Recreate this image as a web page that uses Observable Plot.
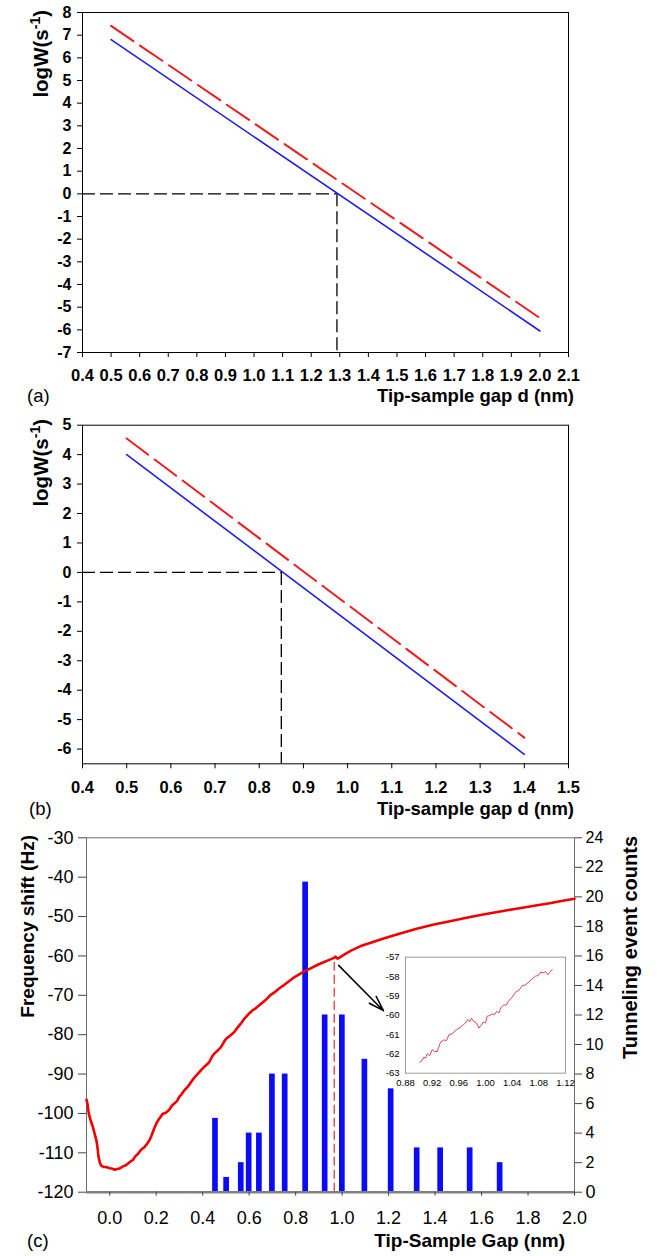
<!DOCTYPE html>
<html>
<head>
<meta charset="utf-8">
<script src="https://cdn.jsdelivr.net/npm/d3@7"></script>
<script src="https://cdn.jsdelivr.net/npm/@observablehq/plot@0.6"></script>
<style>
  html, body { margin: 0; padding: 0; background: #fff; }
  #fig { position: relative; width: 662px; height: 1256px; background: #fff; }
  #fig svg { position: absolute; }
</style>
</head>
<body>
<div id="fig"></div>
<script>
// ---------- Panel (a) ----------
const gapA = [0.5, 2.0];
const blueA = [6.8, -6.05];
const redA = [7.41, -5.48];
const crossA = 1.29;
const xTicksA = [0.4,0.5,0.6,0.7,0.8,0.9,1.0,1.1,1.2,1.3,1.4,1.5,1.6,1.7,1.8,1.9,2.0,2.1];
const yTicksA = [-7,-6,-5,-4,-3,-2,-1,0,1,2,3,4,5,6,7,8];

// ---------- Panel (b) ----------
const gapB = [0.5, 1.4];
const blueB = [4.0, -6.18];
const redB = [4.55, -5.61];
const crossB = 0.85;
const xTicksB = [0.4,0.5,0.6,0.7,0.8,0.9,1.0,1.1,1.2,1.3,1.4,1.5];
const yTicksB = [-6,-5,-4,-3,-2,-1,0,1,2,3,4,5];

// ---------- Panel (c) ----------
const curveGap = [-0.100,-0.096,-0.090,-0.082,-0.072,-0.064,-0.057,-0.052,-0.048,-0.042,-0.036,-0.025,-0.015,0.000,0.010,0.021,0.032,0.042,0.055,0.071,0.085,0.100,0.110,0.121,0.135,0.150,0.160,0.171,0.180,0.190,0.200,0.210,0.220,0.228,0.240,0.250,0.257,0.268,0.278,0.290,0.300,0.307,0.320,0.336,0.350,0.364,0.378,0.393,0.410,0.428,0.440,0.450,0.465,0.478,0.490,0.500,0.515,0.535,0.550,0.564,0.580,0.600,0.615,0.628,0.650,0.671,0.690,0.710,0.730,0.750,0.770,0.790,0.810,0.835,0.860,0.893,0.920,0.945,0.965,0.972,0.980,0.990,1.000,1.036,1.080,1.130,1.178,1.250,1.321,1.390,1.464,1.535,1.607,1.680,1.750,1.820,1.893,1.950,2.000];
const curveShift = [-96.5,-97.5,-100.1,-101.8,-103.5,-105.4,-106.9,-109.0,-111.1,-112.6,-113.3,-113.6,-113.6,-113.9,-114.0,-114.3,-114.1,-114.0,-113.5,-113.1,-112.4,-111.8,-110.9,-110.3,-109.2,-108.5,-107.8,-106.8,-105.6,-104.0,-102.6,-101.6,-100.8,-100.1,-99.9,-99.4,-99.0,-98.0,-97.5,-96.8,-95.7,-95.3,-94.2,-93.2,-92.0,-90.9,-90.0,-89.0,-88.0,-87.0,-85.6,-84.8,-84.0,-83.2,-82.0,-81.1,-80.4,-79.4,-78.2,-77.2,-75.9,-74.6,-73.8,-73.3,-72.2,-71.2,-70.0,-69.2,-68.2,-67.4,-66.5,-65.6,-64.9,-64.0,-63.3,-62.3,-61.6,-61.0,-60.5,-60.2,-60.7,-60.4,-60.0,-58.7,-57.5,-56.5,-55.6,-54.3,-53.1,-52.1,-51.2,-50.3,-49.5,-48.7,-48.0,-47.3,-46.6,-46.0,-45.5];
const barGap = [0.455,0.503,0.566,0.600,0.644,0.700,0.755,0.843,0.927,1.001,1.098,1.211,1.323,1.424,1.551,1.680];
const barCount = [5,1,2,4,4,8,8,21,12,12,9,7,3,3,3,2];
const markGap = 0.966;
const markShift = -60.5;
const arrowFrom = [0.985, -62.4];
const arrowTo = [1.178, -73.9];
const xTicksC = [0.0,0.2,0.4,0.6,0.8,1.0,1.2,1.4,1.6,1.8,2.0];
const yTicksC = [-120,-110,-100,-90,-80,-70,-60,-50,-40,-30];
const countTicks = [0,2,4,6,8,10,12,14,16,18,20,22,24];

// ---------- Inset ----------
const insetGap = [0.9015,0.905,0.9075,0.91,0.9125,0.9165,0.92,0.9235,0.9275,0.9325,0.9375,0.9415,0.945,0.95,0.955,0.9585,0.9625,0.9665,0.97,0.9735,0.9765,0.979,0.9825,0.9865,0.99,0.9935,0.9965,1.0,1.0025,1.0065,1.01,1.0135,1.0165,1.02,1.0235,1.0275,1.0315,1.035,1.04,1.045,1.05,1.055,1.06,1.065,1.07,1.075,1.079,1.0825,1.0865,1.09,1.0935,1.0965,1.10];
const insetShift = [-62.43,-62.34,-62.17,-62.22,-62.0,-62.09,-61.78,-61.88,-61.88,-61.40,-61.28,-61.31,-61.02,-60.97,-60.79,-60.71,-60.62,-60.5,-60.40,-60.22,-60.33,-60.16,-60.33,-60.40,-60.67,-60.53,-60.36,-60.40,-60.05,-60.02,-59.93,-59.98,-59.81,-59.88,-59.59,-59.47,-59.47,-59.24,-59.07,-58.81,-58.72,-58.47,-58.43,-58.29,-58.12,-57.98,-57.95,-57.78,-57.81,-57.74,-57.91,-57.78,-57.64];
const insetXTicks = [0.88,0.92,0.96,1.00,1.04,1.08,1.12];
const insetYTicks = [-63,-62,-61,-60,-59,-58,-57];

const FONT = "Liberation Sans, Arial, sans-serif";
const fig = document.getElementById("fig");

function place(svg, left, top) {
  svg.style.left = left + "px";
  svg.style.top = top + "px";
  fig.appendChild(svg);
  return d3.select(svg);
}

function styleTicks(sel, box, pick) {
  const svgRect = sel.node().getBoundingClientRect();
  sel.selectAll("text").each(function () {
    const r = this.getBoundingClientRect();
    const cx = r.left + r.width / 2 - svgRect.left;
    const cy = r.top + r.height / 2 - svgRect.top;
    let region = null;
    if (cy > box.bottom) region = "x";
    else if (cx < box.left) region = "left";
    else if (cx > box.right) region = "right";
    if (!region) return;
    const p = pick(region);
    if (!p) return;
    d3.select(this).style("font-size", p[0] + "px").style("font-weight", p[1]).style("font-family", FONT);
  });
}

function yLabelSup(sel, x, y) {
  const t = sel.append("text")
    .attr("transform", `translate(${x},${y}) rotate(-90)`)
    .attr("text-anchor", "end")
    .style("font-family", FONT).style("font-weight", "bold").style("font-size", "20.5px")
    .attr("fill", "black");
  t.append("tspan").text("logW(s");
  t.append("tspan").style("font-size", "14px").attr("dy", "-0.6em").text("-1");
  t.append("tspan").attr("dy", "0.42em").text(")");
}

function textAt(sel, x, y, str, opts = {}) {
  return sel.append("text")
    .attr("x", x).attr("y", y)
    .attr("text-anchor", opts.anchor || "start")
    .style("font-family", FONT)
    .style("font-weight", opts.weight || "normal")
    .style("font-size", (opts.size || 17) + "px")
    .attr("fill", "black")
    .text(str);
}

function panelAB(gap, blue, red, cross, xTicks, yTicks, xDom, yDom, mTop, mBottom, height) {
  return Plot.plot({
    width: 662, height,
    marginLeft: 82, marginRight: 94, marginTop: mTop, marginBottom: mBottom,
    style: {fontFamily: FONT, background: "transparent", color: "black"},
    x: {domain: xDom},
    y: {domain: yDom},
    marks: [
      Plot.axisX(xTicks, {tickSize: 5, tickFormat: () => "", label: null}),
      Plot.axisY(yTicks, {tickSize: 5, tickFormat: () => "", label: null}),
      Plot.text(xTicks, {x: d => d, frameAnchor: "bottom", lineAnchor: "top", dy: 17, text: d => d.toFixed(1),
        fontSize: 16.5, fontWeight: "bold", fontFamily: FONT, fill: "black"}),
      Plot.text(yTicks, {y: d => d, frameAnchor: "left", textAnchor: "end", lineAnchor: "middle", dx: -11, text: d => String(d),
        fontSize: 16, fontWeight: "bold", fontFamily: FONT, fill: "black"}),
      Plot.ruleY([0], {x1: xDom[0], x2: cross, stroke: "black", strokeWidth: 1.3, strokeDasharray: "13,5"}),
      Plot.ruleX([cross], {y1: 0, y2: yDom[0], stroke: "black", strokeWidth: 1.3, strokeDasharray: "13,5"}),
      Plot.line(gap.map((g, i) => ({g, v: red[i]})), {x: "g", y: "v", stroke: "#ee1c1c", strokeWidth: 2, strokeDasharray: "27,8"}),
      Plot.line(gap.map((g, i) => ({g, v: blue[i]})), {x: "g", y: "v", stroke: "#1f1fe6", strokeWidth: 1.6}),
      Plot.frame({stroke: "black", strokeWidth: 1})
    ]
  });
}

// Panel (a)
const svgA = panelAB(gapA, blueA, redA, crossA, xTicksA, yTicksA, [0.4, 2.1], [-7, 8], 12, 60, 412);
const sa = place(svgA, 0, 0);
yLabelSup(sa, 48, 10);
textAt(sa, 574, 402, "Tip-sample gap d (nm)", {anchor: "end", weight: "bold", size: 18.5});
textAt(sa, 27, 402, "(a)", {size: 18.5});

// Panel (b)
const svgB = panelAB(gapB, blueB, redB, crossB, xTicksB, yTicksB, [0.4, 1.5], [-6.5, 5], 12.7, 58.7, 410);
const sb = place(svgB, 0, 412);
yLabelSup(sb, 48, 7);
textAt(sb, 574, 403, "Tip-sample gap d (nm)", {anchor: "end", weight: "bold", size: 18.5});
textAt(sb, 29, 403, "(b)", {size: 18.5});

// Panel (c)
const cBase = -120, cPerCount = 90 / 24;
const bars = barGap.map((g, i) => ({x1: g - 0.0122, x2: g + 0.0122, y1: cBase, y2: cBase + barCount[i] * cPerCount}));
const curve = curveGap.map((g, i) => ({g, v: curveShift[i]}));
const svgC = Plot.plot({
  width: 662, height: 434,
  marginLeft: 86, marginRight: 88, marginTop: 15.3, marginBottom: 64.3,
  style: {fontFamily: FONT, background: "transparent", color: "black"},
  x: {domain: [-0.1, 2.0]},
  y: {domain: [-120, -30]},
  marks: [
    Plot.frame({stroke: "#6e6e6e", strokeWidth: 1}),
    Plot.rect(bars, {x1: "x1", x2: "x2", y1: "y1", y2: "y2", fill: "#0b0bf5"}),
    Plot.ruleX([markGap], {y1: -120, y2: markShift, stroke: "#e8262b", strokeWidth: 1.2, strokeDasharray: "9,4"}),
    Plot.line(curve, {x: "g", y: "v", stroke: "#f00000", strokeWidth: 2.6}),
    Plot.arrow([{x1: arrowFrom[0], y1: arrowFrom[1], x2: arrowTo[0], y2: arrowTo[1]}], {x1: "x1", y1: "y1", x2: "x2", y2: "y2", stroke: "black", strokeWidth: 1.5, headLength: 16, headAngle: 35}),
    Plot.ruleY([-120], {stroke: "#808080", strokeWidth: 2.5}),
    Plot.axisX(xTicksC, {tickSize: 4, tickPadding: 15, tickFormat: d => d.toFixed(1), label: null, stroke: "#444"}),
    Plot.axisY(yTicksC, {anchor: "left", tickSize: 8, tickPadding: 5, tickFormat: d => String(d), label: null, stroke: "#444"}),
    Plot.axisY(countTicks.map(c => cBase + c * cPerCount), {anchor: "right", tickSize: 7, tickPadding: 4, tickFormat: d => String(Math.round((d - cBase) / cPerCount)), label: null, stroke: "#444"})
  ]
});
const sc = place(svgC, 0, 822);
styleTicks(sc, {left: 86, right: 574, bottom: 369.7}, r => r === "right" ? [16, "normal"] : [18, "normal"]);
sc.append("text")
  .attr("transform", "translate(34,13) rotate(-90)")
  .attr("text-anchor", "end")
  .style("font-family", FONT).style("font-weight", "bold").style("font-size", "19px")
  .attr("fill", "black").text("Frequency shift (Hz)");
sc.append("text")
  .attr("transform", "translate(637,14) rotate(-90)")
  .attr("text-anchor", "end")
  .style("font-family", FONT).style("font-weight", "bold").style("font-size", "20px")
  .attr("fill", "black").text("Tunneling event counts");
textAt(sc, 565, 425, "Tip-Sample Gap (nm)", {anchor: "end", weight: "bold", size: 19});
textAt(sc, 27, 425, "(c)", {size: 18.5});

// Inset
const inset = insetGap.map((g, i) => ({g, v: insetShift[i]}));
const svgI = Plot.plot({
  width: 205, height: 145,
  marginLeft: 35, marginRight: 10, marginTop: 11.7, marginBottom: 17.3,
  style: {fontFamily: FONT, background: "transparent", color: "black"},
  x: {domain: [0.88, 1.12]},
  y: {domain: [-63, -57]},
  marks: [
    Plot.frame({stroke: "#9a9a9a", strokeWidth: 1, fill: "white"}),
    Plot.line(inset, {x: "g", y: "v", stroke: "#d9474a", strokeWidth: 1}),
    Plot.axisX(insetXTicks, {tickSize: 0, tickPadding: 6, tickFormat: d => d.toFixed(2), label: null}),
    Plot.axisY(insetYTicks, {tickSize: 0, tickPadding: 6, tickFormat: d => String(d), label: null})
  ]
});
const si = place(svgI, 370, 945);
styleTicks(si, {left: 35, right: 195, bottom: 127.7}, r => [9.5, "normal"]);
</script>
</body>
</html>
